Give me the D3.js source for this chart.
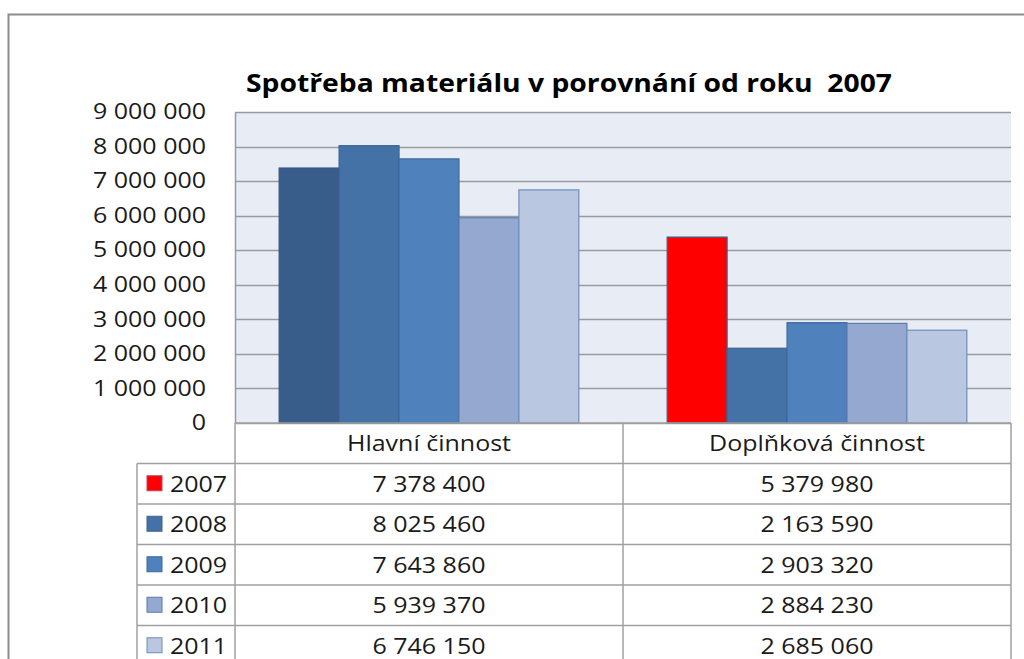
<!DOCTYPE html>
<html>
<head>
<meta charset="utf-8">
<title>Spotřeba materiálu</title>
<script src="https://d3js.org/d3.v7.min.js"></script>
<style>
  body { margin: 0; background: #fff; }
  text { font-family: "Open Sans", Lato, sans-serif; fill: #1a1a1a; }
</style>
</head>
<body>
<div id="chart"></div>
<script>
  // data
  var categories = ["Hlavní činnost", "Doplňková činnost"];
  var years = ["2007", "2008", "2009", "2010", "2011"];
  var hlavni = [7378400, 8025460, 7643860, 5939370, 6746150];
  var doplnkova = [5379980, 2163590, 2903320, 2884230, 2685060];
  var yTicks = [0, 1000000, 2000000, 3000000, 4000000, 5000000, 6000000, 7000000, 8000000, 9000000];

  var fills = ["#385D8A", "#4471A6", "#4F81BD", "#95A9D0", "#B9C7E1"];
  var strokes = ["#34567f", "#3b6494", "#3d68a0", "#5b7aae", "#6f8dbb"];
  // 2007 in Doplňková is highlighted red, also the legend key
  var red = "#FF0000";

  var width = 1024, height = 659;
  var plot = { left: 235, right: 1011, top: 112, bottom: 423 };
  var rowH = 40.5;
  var legendLeft = 137;

  var cz = d3.formatLocale({ decimal: ",", thousands: "\u00a0", grouping: [3], currency: ["", " Kč"] });
  var fmt = cz.format(",d");

  // the original font runs wider than Open Sans, stretch the text a bit
  function widen(sel, k) {
    sel.each(function() {
      var w = this.getComputedTextLength();
      d3.select(this).attr("textLength", w * k).attr("lengthAdjust", "spacingAndGlyphs");
    });
  }

  var svg = d3.select("#chart").append("svg")
    .attr("width", width)
    .attr("height", height);

  // outer frame
  svg.append("rect")
    .attr("x", 8.5).attr("y", 14.5)
    .attr("width", 1030).attr("height", 700)
    .attr("fill", "#fff")
    .attr("stroke", "#8c8c8c")
    .attr("stroke-width", 2);

  // title
  svg.append("text")
    .attr("x", 569).attr("y", 92)
    .attr("text-anchor", "middle")
    .attr("textLength", 646)
    .attr("lengthAdjust", "spacingAndGlyphs")
    .style("font-size", "25px")
    .style("font-weight", "bold")
    .style("fill", "#000")
    .attr("xml:space", "preserve")
    .text("Spotřeba materiálu v porovnání od roku  2007");

  var x0 = d3.scaleBand().domain(categories).range([plot.left, plot.right]);
  var x1 = d3.scaleBand().domain(years).range([0, x0.bandwidth()]).paddingOuter(0.737);
  var y = d3.scaleLinear().domain([0, 9000000]).range([plot.bottom, plot.top]);

  // plot background
  svg.append("rect")
    .attr("x", plot.left).attr("y", plot.top)
    .attr("width", plot.right - plot.left).attr("height", plot.bottom - plot.top)
    .attr("fill", "#E8ECF4");

  // gridlines
  svg.append("g")
    .selectAll("line")
    .data(yTicks)
    .enter().append("line")
    .attr("x1", plot.left).attr("x2", plot.right)
    .attr("y1", function(d) { return Math.round(y(d)) + 0.5; })
    .attr("y2", function(d) { return Math.round(y(d)) + 0.5; })
    .attr("stroke", "#9a9a9a")
    .attr("stroke-width", 1.5);

  // y axis
  var yAxis = svg.append("g")
    .attr("transform", "translate(" + plot.left + ",0)")
    .call(d3.axisLeft(y).tickValues(yTicks).tickFormat(fmt).tickSize(0).tickPadding(29));
  yAxis.select(".domain").attr("stroke", "#9a9a9a").attr("stroke-width", 1.5);
  yAxis.selectAll("text")
    .style("font-size", "21px")
    .style("font-family", "'Open Sans', sans-serif")
    .attr("fill", "#1a1a1a")
    .call(widen, 1.19);

  // bars
  var series = [hlavni, doplnkova];
  var groups = svg.append("g").selectAll("g")
    .data(categories)
    .enter().append("g")
    .attr("transform", function(d) { return "translate(" + x0(d) + ",0)"; });

  groups.selectAll("rect")
    .data(function(c, ci) {
      return years.map(function(yr, i) { return { year: yr, value: series[ci][i], ci: ci, i: i }; });
    })
    .enter().append("rect")
    .attr("x", function(d) { return x1(d.year); })
    .attr("width", x1.bandwidth())
    .attr("y", function(d) { return y(d.value); })
    .attr("height", function(d) { return y(0) - y(d.value); })
    .attr("fill", function(d) { return (d.ci == 1 && d.i == 0) ? red : fills[d.i]; })
    .attr("stroke", function(d) { return (d.ci == 1 && d.i == 0) ? "#3a5f8b" : strokes[d.i]; })
    .attr("stroke-width", 1.2);

  // data table
  var table = svg.append("g");
  var lineColor = "#a0a0a0";
  var tableBottom = plot.bottom + rowH * 6;

  // horizontal lines
  table.append("line")
    .attr("x1", plot.left).attr("x2", plot.right)
    .attr("y1", plot.bottom).attr("y2", plot.bottom);
  years.forEach(function(yr, i) {
    table.append("line")
      .attr("x1", legendLeft).attr("x2", plot.right)
      .attr("y1", plot.bottom + rowH * (i + 1)).attr("y2", plot.bottom + rowH * (i + 1));
  });
  // vertical lines
  table.append("line").attr("x1", legendLeft).attr("x2", legendLeft)
    .attr("y1", plot.bottom + rowH).attr("y2", tableBottom);
  [plot.left, plot.left + x0.bandwidth(), plot.right].forEach(function(xv) {
    table.append("line").attr("x1", xv).attr("x2", xv)
      .attr("y1", plot.bottom).attr("y2", tableBottom);
  });
  table.selectAll("line").attr("stroke", lineColor).attr("stroke-width", 1.5);

  // header
  table.selectAll(".cat")
    .data(categories)
    .enter().append("text")
    .attr("class", "cat")
    .attr("x", function(d) { return x0(d) + x0.bandwidth() / 2; })
    .attr("y", plot.bottom + rowH / 2 + 8)
    .attr("text-anchor", "middle")
    .style("font-size", "21px")
    .text(function(d) { return d; });

  // rows
  years.forEach(function(yr, i) {
    var cy = plot.bottom + rowH * (i + 1) + rowH / 2;
    table.append("rect")
      .attr("x", 147).attr("y", cy - 8)
      .attr("width", 15).attr("height", 15)
      .attr("fill", i == 0 ? red : fills[i])
      .attr("stroke", i == 0 ? "#c04060" : strokes[i])
      .attr("stroke-width", 1);
    table.append("text")
      .attr("x", 170).attr("y", cy + 8)
      .style("font-size", "21px")
      .text(yr);
    series.forEach(function(s, ci) {
      table.append("text")
        .attr("x", x0(categories[ci]) + x0.bandwidth() / 2)
        .attr("y", cy + 8)
        .attr("text-anchor", "middle")
        .style("font-size", "21px")
        .text(fmt(s[i]));
    });
  });
  table.selectAll("text").call(widen, 1.19);
</script>
</body>
</html>
